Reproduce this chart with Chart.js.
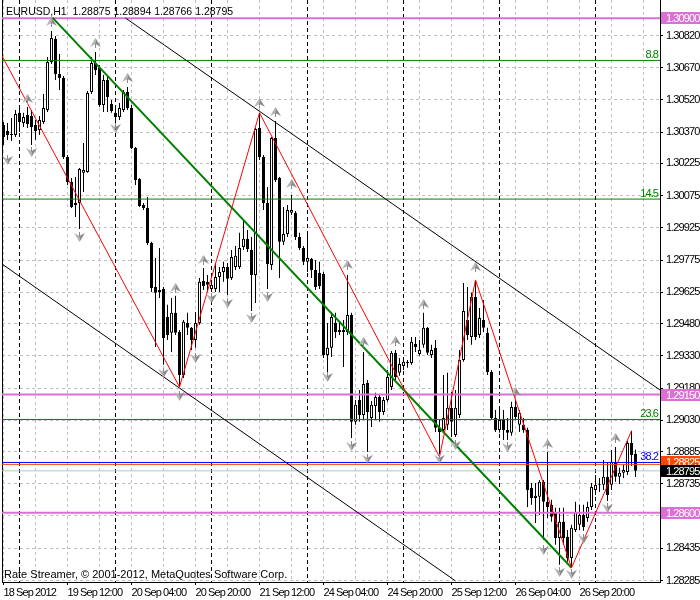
<!DOCTYPE html>
<html>
<head>
<meta charset="utf-8">
<script src="https://cdn.jsdelivr.net/npm/chart.js@4.4.1/dist/chart.umd.min.js"></script>
<style>
html,body{margin:0;padding:0;background:#fff;}
#wrap{width:700px;height:600px;}
</style>
</head>
<body>
<div id="wrap"><canvas id="c" width="700" height="600"></canvas></div>
<script>
// EURUSD H1, 159 bars (18 Sep 20:00 .. 27 Sep 10:00)
const opens = [
1.30404,1.30376,1.30357,1.30357,1.30460,1.30413,1.30450,1.30446,1.30404,1.30380,
1.30418,1.30473,1.30697,1.30804,1.30641,1.30622,1.30255,1.30139,1.30032,1.30041,
1.30181,1.30185,1.30557,1.30692,1.30669,1.30497,1.30613,1.30501,1.30460,1.30441,
1.30473,1.30557,1.30483,1.30297,1.30153,1.30032,1.30018,1.29855,1.29650,1.29627,
1.29641,1.29511,1.29437,1.29530,1.29441,1.29241,1.29483,1.29460,1.29404,1.29483,
1.29678,1.29674,1.29641,1.29641,1.29697,1.29720,1.29743,1.29692,1.29743,1.29743,
1.29836,1.29874,1.29822,1.29706,1.30390,1.30255,1.30041,1.29753,1.30343,1.30157,
1.29860,1.29897,1.29995,1.29995,1.29883,1.29832,1.29767,1.29781,1.29729,1.29716,
1.29711,1.29334,1.29367,1.29483,1.29441,1.29450,1.29441,1.29520,1.29023,1.29125,
1.29055,1.29204,1.29041,1.29097,1.29139,1.29069,1.29125,1.29185,1.29344,1.29251,
1.29283,1.29297,1.29297,1.29385,1.29339,1.29381,1.29460,1.29334,1.29367,1.28995,
1.28985,1.29009,1.29088,1.28962,1.29055,1.29311,1.29497,1.29418,1.29604,1.29427,
1.29497,1.29437,1.29255,1.29041,1.28985,1.29032,1.28985,1.28972,1.29092,1.29009,
1.29009,1.28985,1.28716,1.28669,1.28674,1.28744,1.28651,1.28637,1.28600,1.28483,
1.28558,1.28488,1.28390,1.28520,1.28544,1.28590,1.28576,1.28627,1.28706,1.28730,
1.28730,1.28767,1.28730,1.28837,1.28767,1.28786,1.28790,1.28925,1.28875
];
const highs = [
1.30418,1.30413,1.30436,1.30473,1.30483,1.30460,1.30487,1.30473,1.30427,1.30446,
1.30548,1.30720,1.30841,1.30818,1.30734,1.30632,1.30264,1.30157,1.30162,1.30204,
1.30320,1.30562,1.30720,1.30743,1.30683,1.30636,1.30636,1.30520,1.30483,1.30506,
1.30566,1.30580,1.30497,1.30301,1.30157,1.30041,1.30069,1.29860,1.29785,1.29832,
1.29650,1.29567,1.29599,1.29609,1.29450,1.29497,1.29530,1.29464,1.29534,1.29692,
1.29739,1.29706,1.29683,1.29762,1.29743,1.29767,1.29762,1.29822,1.29841,1.29902,
1.29962,1.29915,1.29883,1.30390,1.30460,1.30264,1.30115,1.30348,1.30422,1.30162,
1.30022,1.30032,1.30078,1.30004,1.29902,1.29841,1.29902,1.29785,1.29776,1.29767,
1.29720,1.29483,1.29530,1.29530,1.29492,1.29497,1.29706,1.29530,1.29125,1.29171,
1.29348,1.29218,1.29120,1.29158,1.29148,1.29139,1.29264,1.29353,1.29357,1.29320,
1.29325,1.29311,1.29418,1.29418,1.29404,1.29530,1.29464,1.29381,1.29404,1.29032,
1.29241,1.29251,1.29162,1.29171,1.29357,1.29669,1.29650,1.29623,1.29683,1.29553,
1.29590,1.29460,1.29264,1.29078,1.29088,1.29078,1.29041,1.29116,1.29125,1.29078,
1.29041,1.28995,1.28739,1.28739,1.28753,1.28753,1.28883,1.28660,1.28623,1.28623,
1.28623,1.28520,1.28544,1.28651,1.28637,1.28637,1.28651,1.28739,1.28776,1.28762,
1.28846,1.28832,1.28892,1.28906,1.28809,1.28823,1.28934,1.28981,1.28894
];
const lows = [
1.30311,1.30334,1.30329,1.30348,1.30371,1.30394,1.30390,1.30311,1.30334,1.30357,
1.30408,1.30464,1.30687,1.30613,1.30566,1.30246,1.30125,1.30018,1.29976,1.29920,
1.30092,1.30181,1.30548,1.30636,1.30487,1.30464,1.30464,1.30460,1.30422,1.30427,
1.30464,1.30473,1.30292,1.30125,1.30022,1.30008,1.29846,1.29627,1.29371,1.29599,
1.29288,1.29404,1.29348,1.29427,1.29185,1.29227,1.29427,1.29357,1.29367,1.29474,
1.29636,1.29627,1.29627,1.29627,1.29627,1.29674,1.29613,1.29683,1.29729,1.29734,
1.29822,1.29813,1.29539,1.29576,1.30241,1.30008,1.29641,1.29729,1.30139,1.29692,
1.29846,1.29883,1.29985,1.29869,1.29822,1.29753,1.29720,1.29692,1.29636,1.29641,
1.29320,1.29255,1.29325,1.29413,1.29427,1.29278,1.29427,1.28948,1.29009,1.29023,
1.29032,1.28883,1.28999,1.29032,1.29023,1.29055,1.29116,1.29171,1.29218,1.29237,
1.29264,1.29274,1.29288,1.29348,1.29330,1.29367,1.29334,1.29320,1.28976,1.28860,
1.28972,1.28985,1.28953,1.28953,1.29041,1.29302,1.29404,1.29381,1.29404,1.29413,
1.29441,1.29241,1.29032,1.28976,1.28972,1.28939,1.28939,1.28958,1.29032,1.28976,
1.28972,1.28627,1.28637,1.28553,1.28590,1.28474,1.28576,1.28558,1.28451,1.28358,
1.28451,1.28372,1.28344,1.28511,1.28520,1.28516,1.28558,1.28613,1.28683,1.28697,
1.28706,1.28655,1.28706,1.28744,1.28734,1.28762,1.28776,1.28818,1.28766
];
const closes = [
1.30348,1.30357,1.30362,1.30455,1.30418,1.30441,1.30408,1.30394,1.30376,1.30427,
1.30483,1.30697,1.30808,1.30641,1.30622,1.30255,1.30139,1.30022,1.30041,1.30199,
1.30194,1.30553,1.30692,1.30659,1.30497,1.30613,1.30534,1.30469,1.30441,1.30483,
1.30557,1.30483,1.30297,1.30148,1.30027,1.30018,1.29855,1.29646,1.29623,1.29636,
1.29413,1.29427,1.29530,1.29437,1.29241,1.29488,1.29460,1.29404,1.29483,1.29674,
1.29655,1.29660,1.29660,1.29697,1.29720,1.29743,1.29688,1.29790,1.29795,1.29832,
1.29874,1.29827,1.29706,1.30385,1.30255,1.30041,1.29757,1.30343,1.30148,1.29860,
1.29897,1.30008,1.30008,1.29883,1.29832,1.29767,1.29785,1.29729,1.29650,1.29655,
1.29334,1.29367,1.29511,1.29441,1.29450,1.29441,1.29520,1.29023,1.29102,1.29055,
1.29199,1.29069,1.29102,1.29139,1.29069,1.29125,1.29232,1.29344,1.29232,1.29292,
1.29302,1.29302,1.29395,1.29371,1.29357,1.29460,1.29344,1.29357,1.28995,1.28976,
1.29041,1.29088,1.29023,1.29088,1.29311,1.29539,1.29427,1.29604,1.29418,1.29506,
1.29460,1.29255,1.29041,1.28985,1.29032,1.28985,1.28972,1.29092,1.29046,1.29065,
1.28985,1.28706,1.28669,1.28679,1.28744,1.28651,1.28627,1.28581,1.28483,1.28558,
1.28483,1.28390,1.28530,1.28604,1.28590,1.28534,1.28627,1.28720,1.28730,1.28734,
1.28767,1.28683,1.28837,1.28767,1.28786,1.28799,1.28925,1.28869,1.28795
];

// time axis: bar index of each label and its text
const labelIdx = [0,16,32,48,64,80,96,112,128,144];
const timeLabels = ['18 Sep 2012','19 Sep 12:00','20 Sep 04:00','20 Sep 20:00','21 Sep 12:00',
                    '24 Sep 04:00','24 Sep 20:00','25 Sep 12:00','26 Sep 04:00','26 Sep 20:00'];
const gridIdx = [0,8,16,24,32,40,48,56,64,72,80,88,96,104,112,120,128,136,144,152,160];
const daySepIdx = [4,28,52,76,100,124,148];
const priceTicks = [1.30820,1.30670,1.30520,1.30370,1.30225,1.30075,1.29925,1.29775,1.29625,
                    1.29480,1.29330,1.29180,1.29030,1.28885,1.28735,1.28585,1.28435,1.28285];

// horizontal levels
const hLevels = [1.30900, 1.29150, 1.28600];
const fibNames = ['8.8','14.5','23.6','38.2'];
const fibPrices = [1.30704, 1.30059, 1.29034, 1.28834];
const markPrice = 1.28825;
const bidPrice = 1.28795;

// zigzag vertices
const zzX = [-0.375, 44, 64, 109, 118, 142, 157];
const zzY = [1.30725, 1.29185, 1.30460, 1.28860, 1.29683, 1.28344, 1.28981];
// trend line and channel (two points each)
const trendX = [12.25, 142];     const trendY = [1.30903, 1.28344];
const chanUpX = [30.5, 164.125]; const chanUpY = [1.30901, 1.29171];
const chanDnX = [-0.375, 113];   const chanDnY = [1.29757, 1.28283];

// fractals
const upX = [6,12,23,31,43,50,64,68,72,86,90,98,105,118,128,136,153];
const upY = [1.30525,1.30883,1.30785,1.30622,1.29646,1.29776,1.30506,1.30464,1.30129,
             1.29753,1.29395,1.29399,1.29571,1.29743,1.29162,1.28920,1.28948];
const dnX = [1,7,19,28,40,44,48,52,56,62,66,81,87,91,109,113,126,135,139,142,145,151];
const dnY = [1.30241,1.30278,1.29883,1.30390,1.29251,1.29144,1.29320,1.29599,1.29576,1.29506,
             1.29604,1.29232,1.28911,1.28851,1.28851,1.28916,1.28906,1.28427,1.28325,1.28316,
             1.28479,1.28623];

const X_MIN = -0.375, X_MAX = 164.125;
const P_MIN = 1.28278, P_MAX = 1.30985;
const FONT = '"Liberation Sans", Arial, sans-serif';
const SPACING = '-0.9px';
const titleText = 'EURUSD,H1  1.28875 1.28894 1.28766 1.28795';
const copyText = 'Rate Streamer, \u00a9 2001-2012, MetaQuotes Software Corp.';

Chart.defaults.font.family = FONT;
Chart.defaults.font.size = 11;
Chart.defaults.color = '#000';

function arrowImg(up){
   let c = document.createElement('canvas');
   c.width = 11; c.height = 10;
   let g = c.getContext('2d');
   if(up){
      g.fillStyle = '#b4b4b4';
      g.beginPath(); g.moveTo(5.5,0); g.lineTo(5.5,6); g.lineTo(0,9); g.closePath(); g.fill();
      g.fillStyle = '#8a8a8a';
      g.beginPath(); g.moveTo(5.5,0); g.lineTo(11,9); g.lineTo(5.5,6); g.closePath(); g.fill();
      g.fillRect(5,5,1,5);
   } else {
      g.fillStyle = '#b4b4b4';
      g.beginPath(); g.moveTo(0,1); g.lineTo(5.5,4); g.lineTo(5.5,10); g.closePath(); g.fill();
      g.fillStyle = '#8a8a8a';
      g.beginPath(); g.moveTo(11,1); g.lineTo(5.5,4); g.lineTo(5.5,10); g.closePath(); g.fill();
      g.fillRect(5,0,1,5);
   }
   return c;
}

function seg(xs, ys, color, width, order){
   return {
      type: 'line',
      data: xs.map((x,k)=>({x: x, y: ys[k]})),
      borderColor: color, borderWidth: width,
      pointRadius: 0, fill: false, tension: 0,
      order: order, xAxisID: 'x', yAxisID: 'y'
   };
}

let datasets = [];

// wicks and bodies
datasets.push({
   type: 'bar',
   data: highs.map((h,i)=>({x: i, y: [lows[i], h]})),
   backgroundColor: '#000', borderWidth: 0,
   barThickness: 1, inflateAmount: 0, grouped: false,
   order: 20, xAxisID: 'x', yAxisID: 'y'
});
datasets.push({
   type: 'bar',
   data: opens.map((o,i)=>({x: i, y: [o, closes[i]]})),
   backgroundColor: opens.map((o,i)=> closes[i] >= o ? '#fff' : '#000'),
   borderColor: '#000', borderWidth: 1, borderSkipped: false,
   barThickness: 3, inflateAmount: 0, grouped: false,
   order: 19, xAxisID: 'x', yAxisID: 'y'
});

datasets.push(seg([X_MIN,X_MAX],[bidPrice,bidPrice],'#c0c0c0',1,21));
hLevels.forEach(p => datasets.push(seg([X_MIN,X_MAX],[p,p],'#da70d6',2,10)));
fibPrices.forEach((p,k) => datasets.push(seg([X_MIN,X_MAX],[p,p], k===3 ? '#0000ff' : '#008000',1,9)));
datasets.push(seg([X_MIN,X_MAX],[markPrice,markPrice],'#ff4500',1,8));
datasets.push(seg(chanUpX, chanUpY, '#000', 1, 7));
datasets.push(seg(chanDnX, chanDnY, '#000', 1, 7));
datasets.push(seg(trendX, trendY, '#008000', 2, 6));
datasets.push(seg(zzX, zzY, '#ff0000', 1, 5));

datasets.push({
   type: 'line', showLine: false,
   data: upX.map((x,k)=>({x: x, y: upY[k]})),
   pointStyle: arrowImg(true), pointRadius: 6,
   order: 2, xAxisID: 'x', yAxisID: 'y'
});
datasets.push({
   type: 'line', showLine: false,
   data: dnX.map((x,k)=>({x: x, y: dnY[k]})),
   pointStyle: arrowImg(false), pointRadius: 6,
   order: 2, xAxisID: 'x', yAxisID: 'y'
});

/* tighter letters, like the terminal font */
const spacing = {
   id: 'spacing',
   beforeUpdate(chart){ chart.ctx.letterSpacing = SPACING; },
   beforeDraw(chart){ chart.ctx.letterSpacing = SPACING; }
};

/* texts drawn over the plot */
const overlay = {
   id: 'overlay',
   afterDraw(chart){
      let ctx = chart.ctx, ya = chart.scales.y, area = chart.chartArea;
      ctx.save();
      ctx.letterSpacing = SPACING;
      ctx.font = '11px ' + FONT;

      ctx.textAlign = 'right';
      ctx.textBaseline = 'alphabetic';
      fibNames.forEach((t,k)=>{
         ctx.fillStyle = k === 3 ? '#0000ff' : '#008000';
         ctx.fillText(t, area.right - 2, ya.getPixelForValue(fibPrices[k]) - 2);
      });

      function box(p, bg, dy){
         let yy = Math.round(ya.getPixelForValue(p) + dy);
         ctx.fillStyle = bg;
         ctx.fillRect(area.right + 1, yy - 6, 40, 12);
         ctx.fillStyle = '#fff';
         ctx.textAlign = 'left';
         ctx.textBaseline = 'middle';
         ctx.fillText(p.toFixed(5), area.right + 6, yy + 0.5);
      }
      hLevels.forEach(p => box(p, '#da70d6', 0));
      box(markPrice, '#ff4500', -2);
      box(bidPrice, '#000', 0);

      ctx.letterSpacing = '0px';
      ctx.fillStyle = '#000';
      ctx.textAlign = 'left';
      ctx.textBaseline = 'alphabetic';
      ctx.font = '10.5px ' + FONT;
      ctx.fillText(titleText, 6, 15);
      ctx.font = '11px ' + FONT;
      ctx.fillText(copyText, 4, 578);
      ctx.restore();
   }
};

function noPad(s){
   s.paddingLeft = 0; s.paddingRight = 0; s.paddingTop = 0; s.paddingBottom = 0;
}

new Chart(document.getElementById('c'), {
   type: 'bar',
   data: { datasets: datasets },
   options: {
      responsive: false,
      animation: false,
      devicePixelRatio: 1,
      layout: { padding: 0, autoPadding: false },
      plugins: { legend: { display: false }, tooltip: { enabled: false } },
      scales: {
         x: {
            type: 'linear', position: 'bottom', min: X_MIN, max: X_MAX, offset: false,
            afterBuildTicks: s => { s.ticks = gridIdx.map(v => ({value: v})); },
            afterFit: s => { s.height = 18; noPad(s); },
            ticks: {
               autoSkip: false, maxRotation: 0, align: 'start', padding: 1,
               font: { size: 11 }, color: '#000',
               callback: v => { let k = labelIdx.indexOf(v); return k >= 0 ? timeLabels[k] : ''; }
            },
            grid: {
               offset: false, color: '#c0c0c0', lineWidth: 1, tickLength: 3,
               tickColor: c => labelIdx.indexOf(c.tick ? c.tick.value : -1) >= 0 ? '#000' : 'rgba(0,0,0,0)'
            },
            border: { color: '#000', dash: [3,3] }
         },
         xs: {
            type: 'linear', position: 'bottom', min: X_MIN, max: X_MAX, offset: false,
            afterBuildTicks: s => { s.ticks = daySepIdx.map(v => ({value: v})); },
            afterFit: s => { s.height = 0; noPad(s); },
            ticks: { display: false },
            grid: { offset: false, color: '#000', drawTicks: false },
            border: { display: false, dash: [4,3] }
         },
         y: {
            type: 'linear', position: 'right', min: P_MIN, max: P_MAX, beginAtZero: false,
            afterBuildTicks: s => { s.ticks = priceTicks.map(v => ({value: v})); },
            afterFit: s => { s.width = 40; noPad(s); },
            ticks: { autoSkip: false, padding: 3, color: '#000', font: { size: 11 },
                     callback: v => v.toFixed(5) },
            grid: { color: '#c0c0c0', tickColor: '#000', tickLength: 3 },
            border: { color: '#000', dash: [3,3] }
         },
         yl: {
            type: 'linear', position: 'left', min: P_MIN, max: P_MAX, beginAtZero: false,
            afterFit: s => { s.width = 2; noPad(s); },
            ticks: { display: false },
            grid: { drawOnChartArea: false, drawTicks: false },
            border: { color: '#000' }
         }
      }
   },
   plugins: [spacing, overlay]
});
</script>
</body>
</html>
